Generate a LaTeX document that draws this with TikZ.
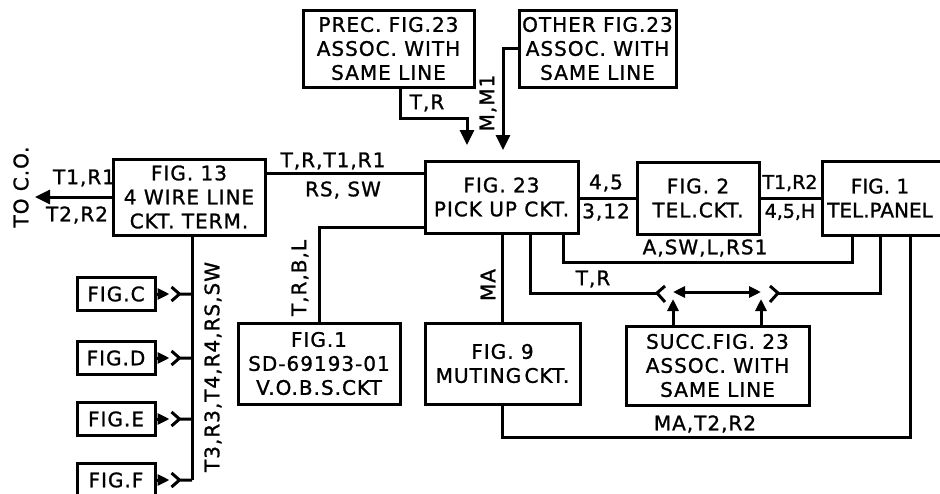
\documentclass[tikz,border=0pt]{standalone}
\usepackage{fontspec}
\setmainfont{DejaVu Sans}[LetterSpace=5,FakeBold=1.2]
\usetikzlibrary{arrows.meta}

\begin{document}
\begin{tikzpicture}[x=1pt,y=-1pt,
  font=\fontsize{20}{24}\selectfont,
  line width=3pt,
  blk/.style={draw,align=center,inner sep=0pt},
  tight/.style={font=\fontsize{19}{24}\selectfont\addfontfeature{LetterSpace=0}},
  tipbig/.style={-{Triangle[length=15pt,width=14pt]}},
  tipsm/.style={-{Triangle[length=12pt,width=11pt]}}]
\useasboundingbox (0,0) rectangle (940,493);

% blocks
\node[blk,minimum width=171pt,minimum height=77pt] (prec) at (388.5,48.5) {PREC. FIG.23\\ASSOC. WITH\\SAME LINE};
\node[blk,minimum width=157pt,minimum height=77pt] (other) at (597.5,48.5) {OTHER FIG.23\\ASSOC. WITH\\SAME LINE};
\node[blk,minimum width=152pt,minimum height=76pt] (fig13) at (189,197) {FIG. 13\\4 WIRE LINE\\CKT. TERM.};
\node[blk,minimum width=153pt,minimum height=72pt] (pick) at (501.5,197) {FIG. 23\\PICK UP CKT.};
\node[blk,minimum width=122pt,minimum height=72pt] (fig2) at (698,198) {FIG. 2\\TEL.CKT.};
\node[blk,minimum width=124pt,minimum height=74pt] (panel) at (884,198) {};
\node[tight,font=\fontsize{20}{24}\selectfont\addfontfeature{LetterSpace=0},align=center] (lpanel) at (880,198) {FIG. 1\\TEL.PANEL};
\node[blk,minimum width=162pt,minimum height=81pt] (vobs) at (319,363.5) {FIG.1\\SD-69193-01\\V.O.B.S.CKT};
\node[blk,minimum width=155pt,minimum height=81pt] (mute) at (502.5,363.5) {FIG. 9\\MUTING\,CKT.};
\node[blk,minimum width=183pt,minimum height=79pt] (succ) at (717.5,365.5) {SUCC.FIG. 23\\ASSOC. WITH\\SAME LINE};

% into pick up ckt
\coordinate (trin) at (467,145);
\coordinate (mmin) at (503,150);
\draw[tipbig] (400,0 |- prec.south) |- (trin |- 0,118) -- (trin);
\draw[tipbig] (other.west) -| (mmin);
\node (ltr) at (427,103) {T,R};
\node[rotate=90] (lmm) at (488,103) {M,M1};

% 4 wire line term.
\draw (fig13.east |- 0,173) -- (pick.west |- 0,173);
\node (ltrr) at (333,161) {T,R,T1,R1};
\node (lrs) at (343,190) {RS, SW};
\coordinate (co) at (35,197);
\draw[tipbig] (fig13.west) -- (co);
\node (lt1) at (84,178) {T1,R1};
\node (lt2) at (77,215) {T2,R2};
\node[rotate=90] (lco) at (21,187) {TO C.O.};

% bus to fig. c..f
\coordinate (busend) at (192,480);
\draw (busend |- fig13.south) -- (busend);
\node[rotate=90] (lbus) at (213,367) {T3,R3,T4,R4,RS,SW};
\foreach \f/\yy in {C/294,D/358,E/419,F/480} {
  \node[blk,minimum width=78pt,minimum height=33pt] (fig\f) at (116,\yy) {FIG.\f};
  \draw[tipsm] (fig\f.east) -- ++(13,0);
  \draw (fig\f.east) ++(15,-7) -- ++(8,7) -- ++(-8,7) ++(8,-7) -- (busend |- fig\f.east);
}

% v.o.b.s.
\draw (pick.west |- 0,227) -| (vobs.north);
\node[rotate=90] (ltrb) at (300,278) {T,R,B,L};

% muting
\draw (mute.north) -- (mute.north |- pick.south);
\node[rotate=90] (lma) at (488,285) {MA};
\coordinate (mcorner) at (910,437);
\draw (mute.south) |- (mcorner) -- (mcorner |- panel.south);
\node (lmat) at (705,424) {MA,T2,R2};

% tel. ckt and panel
\draw (pick.east |- 0,198) -- (fig2.west |- 0,198);
\node (l45) at (606,183) {4,5};
\node (l312) at (606,212) {3,12};
\draw (fig2.east) -- (panel.west);
\node[tight] (lt1r2) at (790,183) {T1,R2};
\node[tight] (l45h) at (790,212) {4,5,H};
\coordinate (aleft) at (563,262);
\coordinate (aright) at (852,262);
\draw (aleft |- pick.south) -- (aleft) -- (aright) -- (aright |- panel.south);
\node (lasw) at (705,248) {A,SW,L,RS1};

% jack
\coordinate (jl) at (657,293);
\coordinate (jr) at (778,293);
\coordinate (jp) at (880,293);
\coordinate (sl) at (673,292);
\coordinate (sr) at (761,292);
\draw (530,0 |- pick.south) |- (jl);
\draw (jl) ++(8,-7) -- (jl) -- ++(8,9);
\draw (jr) ++(-8,-7) -- (jr) -- ++(-8,9);
\draw (jr) -- (jp) -- (jp |- panel.south);
\draw[{Triangle[length=12pt,width=11pt]}-{Triangle[length=12pt,width=11pt]}] (sl) -- (sr);
\draw[tipsm] (sl |- succ.north) -- ([yshift=-7pt]sl);
\draw[tipsm] (sr |- succ.north) -- ([yshift=-7pt]sr);
\node (ljtr) at (593,279) {T,R};
\end{tikzpicture}
\end{document}
